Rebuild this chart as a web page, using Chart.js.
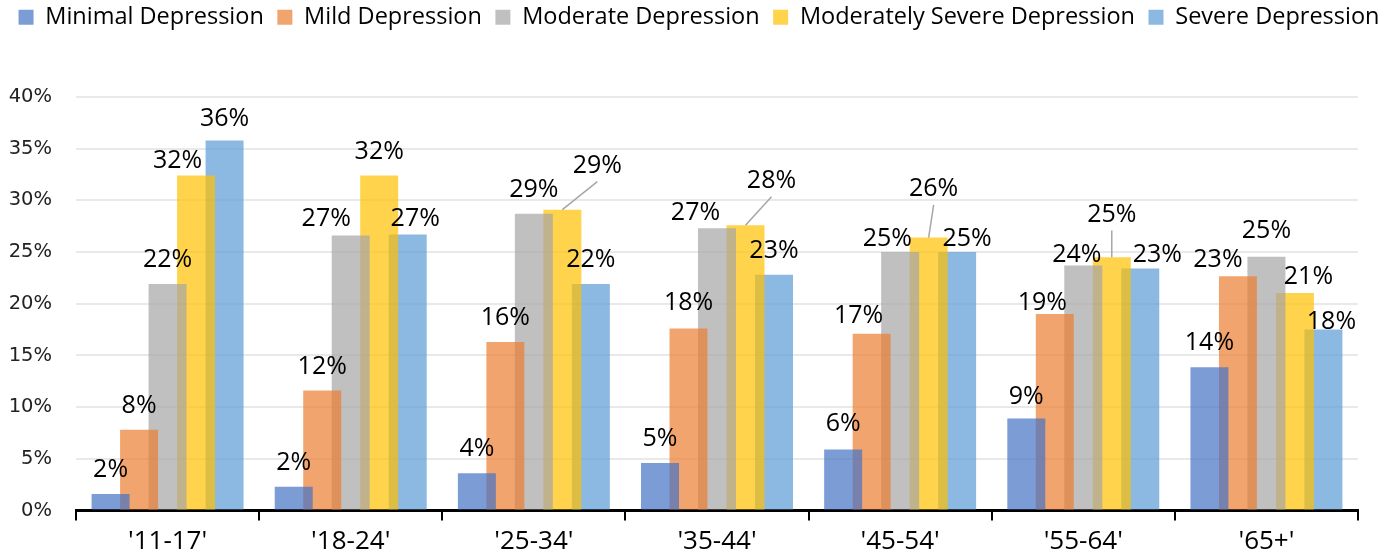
<!DOCTYPE html>
<html>
<head>
<meta charset="utf-8">
<script src="https://cdn.jsdelivr.net/npm/chart.js@4.4.1/dist/chart.umd.min.js"></script>
<style>
    html, body { margin: 0; padding: 0; background: #fff; }
    #chart-container { width: 1398px; height: 560px; }
</style>
</head>
<body>
<div id="chart-container"><canvas id="depression_chart"></canvas></div>
<script>
'use strict';

const ageGroups = ["'11-17'", "'18-24'", "'25-34'", "'35-44'", "'45-54'", "'55-64'", "'65+'"];
const seriesNames = ['Minimal Depression', 'Mild Depression', 'Moderate Depression',
    'Moderately Severe Depression', 'Severe Depression'];
const minimal = [1.6, 2.3, 3.6, 4.6, 5.9, 8.9, 13.85];
const mild = [7.8, 11.6, 16.3, 17.6, 17.1, 19.0, 22.65];
const moderate = [21.9, 26.6, 28.7, 27.3, 25.0, 23.7, 24.55];
const modSevere = [32.4, 32.4, 29.1, 27.6, 26.4, 24.5, 21.05];
const severe = [35.8, 26.7, 21.9, 22.8, 25.0, 23.4, 17.5];
const yTicks = [0, 5, 10, 15, 20, 25, 30, 35, 40];

const seriesColors = ['rgba(68,114,196,0.7)', 'rgba(237,125,49,0.7)', 'rgba(165,165,165,0.7)',
    'rgba(255,192,0,0.7)', 'rgba(91,155,213,0.7)'];

// label placement tweaks: [group, series, dx, lift above bar top, leader line]
const labelTweaks = [
    [0, 3, -18.5, 17], [0, 4, 0, 23],
    [1, 2, -24.5, 18.5], [1, 4, 7.5, 17],
    [2, 3, 35, 46, 1],
    [3, 2, -21.5, 17.5], [3, 3, 26, 46.5, 1], [3, 1, 0, 28],
    [4, 0, 0, 28], [4, 1, -13, 20], [4, 2, -12.8, 15.2], [4, 3, 5, 50.7, 1], [4, 4, 10, 15.2],
    [5, 0, 0, 23], [5, 1, -12.5, 12.7], [5, 2, -6.5, 12.3], [5, 3, 0, 44.7, 1], [5, 4, 17, 15.7],
    [6, 1, -20, 18], [6, 2, 0, 28], [6, 3, 13.5, 18], [6, 4, 8, 9.5],
];

const legendSpace = {
    id: 'legendSpace',
    beforeInit(chart) {
        const fit = chart.legend.fit;
        chart.legend.fit = function () {
            fit.bind(chart.legend)();
            this.height = 97;
        };
    },
    afterLayout(chart) {
        chart.legend.top = -8;
    },
};

const barLabels = {
    id: 'barLabels',
    afterDatasetsDraw(chart) {
        const ctx = chart.ctx;
        ctx.save();
        ctx.font = '25px "Open Sans"';
        ctx.textAlign = 'center';
        ctx.textBaseline = 'alphabetic';
        chart.data.datasets.forEach((ds, s) => {
            chart.getDatasetMeta(s).data.forEach((bar, g) => {
                const tweak = labelTweaks.find(t => t[0] === g && t[1] === s);
                const dx = tweak ? tweak[2] : 0;
                const lift = tweak ? tweak[3] : 26;
                const x = bar.x + dx;
                const cy = bar.y - lift;
                if (tweak && tweak[4]) {
                    ctx.strokeStyle = '#a6a6a6';
                    ctx.lineWidth = 1.5;
                    ctx.beginPath();
                    ctx.moveTo(x, cy + 18);
                    ctx.lineTo(bar.x, bar.y);
                    ctx.stroke();
                }
                ctx.fillStyle = '#000';
                ctx.fillText(Math.round(ds.data[g]) + '%', x, cy + 9);
            });
        });
        ctx.restore();
    },
};

const seriesData = [minimal, mild, moderate, modSevere, severe];

new Chart(document.getElementById('depression_chart').getContext('2d'), {
    type: 'bar',
    data: {
        labels: ageGroups,
        datasets: seriesNames.map((name, i) => ({
            label: name,
            data: seriesData[i],
            backgroundColor: seriesColors[i],
            borderWidth: 0,
            categoryPercentage: 0.778,
            barPercentage: 1.333,
        })),
    },
    options: {
        responsive: true,
        maintainAspectRatio: false,
        animation: false,
        layout: { padding: 0 },
        plugins: {
            legend: {
                display: true,
                position: 'top',
                labels: {
                    boxWidth: 15,
                    boxHeight: 15,
                    padding: 13.5,
                    color: '#000',
                    font: { family: '"Open Sans"', size: 23.5 },
                },
            },
            tooltip: { enabled: false },
        },
        scales: {
            x: {
                grid: {
                    display: true,
                    drawOnChartArea: false,
                    drawTicks: true,
                    tickLength: 10,
                    color: '#000',
                    lineWidth: 2,
                },
                border: { display: true, color: '#000', width: 3 },
                ticks: {
                    color: '#000',
                    padding: 5,
                    font: { family: '"Open Sans"', size: 26 },
                },
                afterFit(scale) { scale.height = 49.5; },
            },
            y: {
                min: 0,
                max: 40,
                afterBuildTicks(scale) { scale.ticks = yTicks.map(v => ({ value: v })); },
                grid: { color: '#e9e9e9', lineWidth: 2, drawTicks: false },
                border: { display: false },
                ticks: {
                    color: '#222',
                    padding: 24,
                    font: { family: '"DejaVu Sans"', size: 19.5 },
                    callback: function (label) {
                        return label + '%';
                    },
                },
                afterFit(scale) { scale.width = 76; },
            },
            yRight: {
                position: 'right',
                display: true,
                grid: { display: false, drawTicks: false },
                border: { display: false },
                ticks: { display: false },
                afterFit(scale) { scale.width = 40; },
            },
        },
    },
    plugins: [legendSpace, barLabels],
});
</script>
</body>
</html>
